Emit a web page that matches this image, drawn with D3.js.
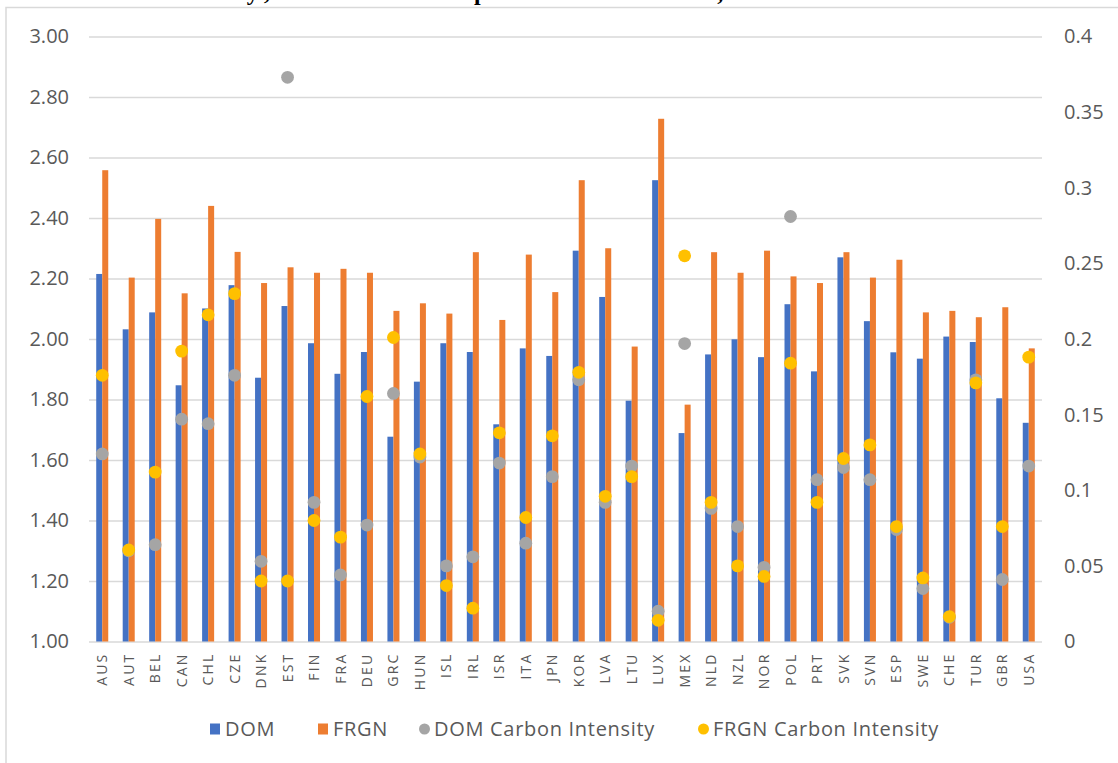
<!DOCTYPE html>
<html>
<head>
<meta charset="utf-8">
<script src="https://cdn.jsdelivr.net/npm/d3@7"></script>
<style>
  html, body { margin: 0; padding: 0; background: #fff; }
  svg { display: block; }
  text { font-family: "Open Sans", "Noto Sans", sans-serif; }
</style>
</head>
<body>
<svg id="chart" width="1118" height="763"></svg>
<script>
// ---- data ----
const countries = ["AUS","AUT","BEL","CAN","CHL","CZE","DNK","EST","FIN","FRA","DEU","GRC","HUN","ISL","IRL","ISR","ITA","JPN","KOR","LVA","LTU","LUX","MEX","NLD","NZL","NOR","POL","PRT","SVK","SVN","ESP","SWE","CHE","TUR","GBR","USA"];
const dom  = [2.215,2.032,2.088,1.847,2.101,2.178,1.872,2.109,1.986,1.885,1.957,1.677,1.859,1.986,1.957,1.718,1.969,1.944,2.292,2.139,1.796,2.525,1.689,1.949,1.999,1.940,2.115,1.893,2.270,2.059,1.956,1.935,2.008,1.990,1.804,1.723];
const frgn = [2.558,2.203,2.397,2.151,2.440,2.288,2.185,2.237,2.219,2.232,2.219,2.093,2.118,2.084,2.287,2.063,2.279,2.155,2.525,2.300,1.975,2.728,1.783,2.287,2.219,2.292,2.207,2.185,2.287,2.203,2.262,2.088,2.093,2.072,2.105,1.969];
const domCI  = [0.124,0.060,0.064,0.147,0.144,0.176,0.053,0.373,0.092,0.044,0.077,0.164,0.122,0.050,0.056,0.118,0.065,0.109,0.173,0.092,0.116,0.020,0.197,0.088,0.076,0.049,0.281,0.107,0.115,0.107,0.074,0.035,0.016,0.173,0.041,0.116];
const frgnCI = [0.176,0.0605,0.112,0.192,0.216,0.230,0.040,0.040,0.080,0.069,0.162,0.201,0.124,0.037,0.022,0.138,0.082,0.136,0.178,0.096,0.109,0.014,0.255,0.092,0.050,0.043,0.184,0.092,0.121,0.130,0.076,0.042,0.0165,0.171,0.076,0.188];
const leftTicks  = [1.0,1.2,1.4,1.6,1.8,2.0,2.2,2.4,2.6,2.8,3.0];
const rightTicks = [0,0.05,0.1,0.15,0.2,0.25,0.3,0.35,0.4];
const rightTickLabels = ["0","0.05","0.1","0.15","0.2","0.25","0.3","0.35","0.4"];
const barSeries = ["DOM","FRGN"];
const dotSeries = ["DOM Carbon Intensity","FRGN Carbon Intensity"];
const titleText = "the world economy; domestic companies and MNEs, 2016";

// ---- styles ----
const colors = {"DOM":"#4472C4","FRGN":"#ED7D31","DOM Carbon Intensity":"#A5A5A5","FRGN Carbon Intensity":"#FFC000"};
const gridColor = "#D9D9D9";
const textColor = "#595959";

const svg = d3.select("#chart");

// clipped title from the page above the chart (only its lower edge is visible)
svg.append("text")
  .attr("x", -2).attr("y", -0.5)
  .attr("textLength", 800)
  .style("font-family", "'Liberation Serif', 'DejaVu Serif', serif")
  .style("font-weight", "bold").style("font-size", "24px").attr("fill", "#000")
  .text(titleText);

// chart frame
svg.append("rect")
  .attr("x", 6).attr("y", 7.5).attr("width", 1200).attr("height", 800)
  .attr("fill", "#fff").attr("stroke", gridColor).attr("stroke-width", 1.5);

const plot = {left: 89, right: 1042, top: 36.5, bottom: 641.5};
const yL = d3.scaleLinear().domain([1, 3]).range([plot.bottom, plot.top]);
const yR = d3.scaleLinear().domain([0, 0.4]).range([plot.bottom, plot.top]);
const x = d3.scaleBand().domain(countries).range([plot.left, plot.right]).padding(0);
const barW = x.bandwidth() * 0.227;
const xs = d3.scaleBand().domain(barSeries).range([0, barW * 2]).padding(0);
const offset = (x.bandwidth() - barW * 2) / 2;

// left axis + gridlines
const gL = svg.append("g").attr("transform", `translate(${plot.left},0)`)
  .call(d3.axisLeft(yL).tickValues(leftTicks).tickSize(-(plot.right - plot.left)).tickPadding(20).tickFormat(d3.format(".2f")));
gL.select(".domain").remove();
gL.selectAll(".tick line").attr("stroke", gridColor).attr("stroke-width", 1.6);
gL.selectAll(".tick text").attr("fill", textColor).style("font-size", "20px").style("font-family", "'Open Sans', sans-serif");

// right axis
const gR = svg.append("g").attr("transform", `translate(${plot.right},0)`)
  .call(d3.axisRight(yR).tickValues(rightTicks).tickSize(0).tickPadding(22).tickFormat((d, i) => rightTickLabels[i]));
gR.select(".domain").remove();
gR.selectAll(".tick text").attr("fill", textColor).style("font-size", "20px").style("font-family", "'Open Sans', sans-serif");

// bars
const rows = countries.map((c, i) => ({c, DOM: dom[i], FRGN: frgn[i], dci: domCI[i], fci: frgnCI[i]}));
const gB = svg.append("g");
gB.selectAll("g").data(rows).join("g")
  .attr("transform", d => `translate(${x(d.c) + offset},0)`)
  .selectAll("rect").data(d => barSeries.map(k => ({k, v: d[k]}))).join("rect")
  .attr("x", d => xs(d.k)).attr("width", xs.bandwidth())
  .attr("y", d => yL(d.v)).attr("height", d => yL(1) - yL(d.v))
  .attr("fill", d => colors[d.k]);

// x axis labels
const gX = svg.append("g").attr("transform", `translate(0,${plot.bottom})`)
  .call(d3.axisBottom(x).tickSize(0));
gX.select(".domain").remove();
gX.selectAll(".tick text")
  .attr("transform", "rotate(-90)")
  .attr("x", -11).attr("y", 0).attr("dy", "0.36em")
  .attr("text-anchor", "end")
  .attr("fill", textColor)
  .style("font-size", "14px").style("letter-spacing", "2.2px");

// dots
const r = 6.4;
svg.append("g").selectAll("circle").data(rows).join("circle")
  .attr("cx", d => x(d.c) + x.bandwidth() / 2).attr("cy", d => yR(d.dci)).attr("r", r)
  .attr("fill", colors[dotSeries[0]]);
svg.append("g").selectAll("circle").data(rows).join("circle")
  .attr("cx", d => x(d.c) + x.bandwidth() / 2).attr("cy", d => yR(d.fci)).attr("r", r)
  .attr("fill", colors[dotSeries[1]]);

// legend
const legendItems = [
  {name: "DOM", shape: "rect", x: 210},
  {name: "FRGN", shape: "rect", x: 318},
  {name: "DOM Carbon Intensity", shape: "circle", x: 419},
  {name: "FRGN Carbon Intensity", shape: "circle", x: 698}
];
const ly = 729;
const lg = svg.append("g").selectAll("g").data(legendItems).join("g")
  .attr("transform", d => `translate(${d.x},${ly})`);
lg.filter(d => d.shape === "rect").append("rect")
  .attr("x", 0).attr("y", -5.5).attr("width", 10).attr("height", 11).attr("fill", d => colors[d.name]);
lg.filter(d => d.shape === "circle").append("circle")
  .attr("cx", 5.5).attr("cy", 0).attr("r", 5.5).attr("fill", d => colors[d.name]);
lg.append("text").attr("x", 15).attr("y", 0).attr("dy", "0.35em")
  .attr("fill", textColor).style("font-size", "20px").style("letter-spacing", "0.7px")
  .text(d => d.name);
</script>
</body>
</html>
